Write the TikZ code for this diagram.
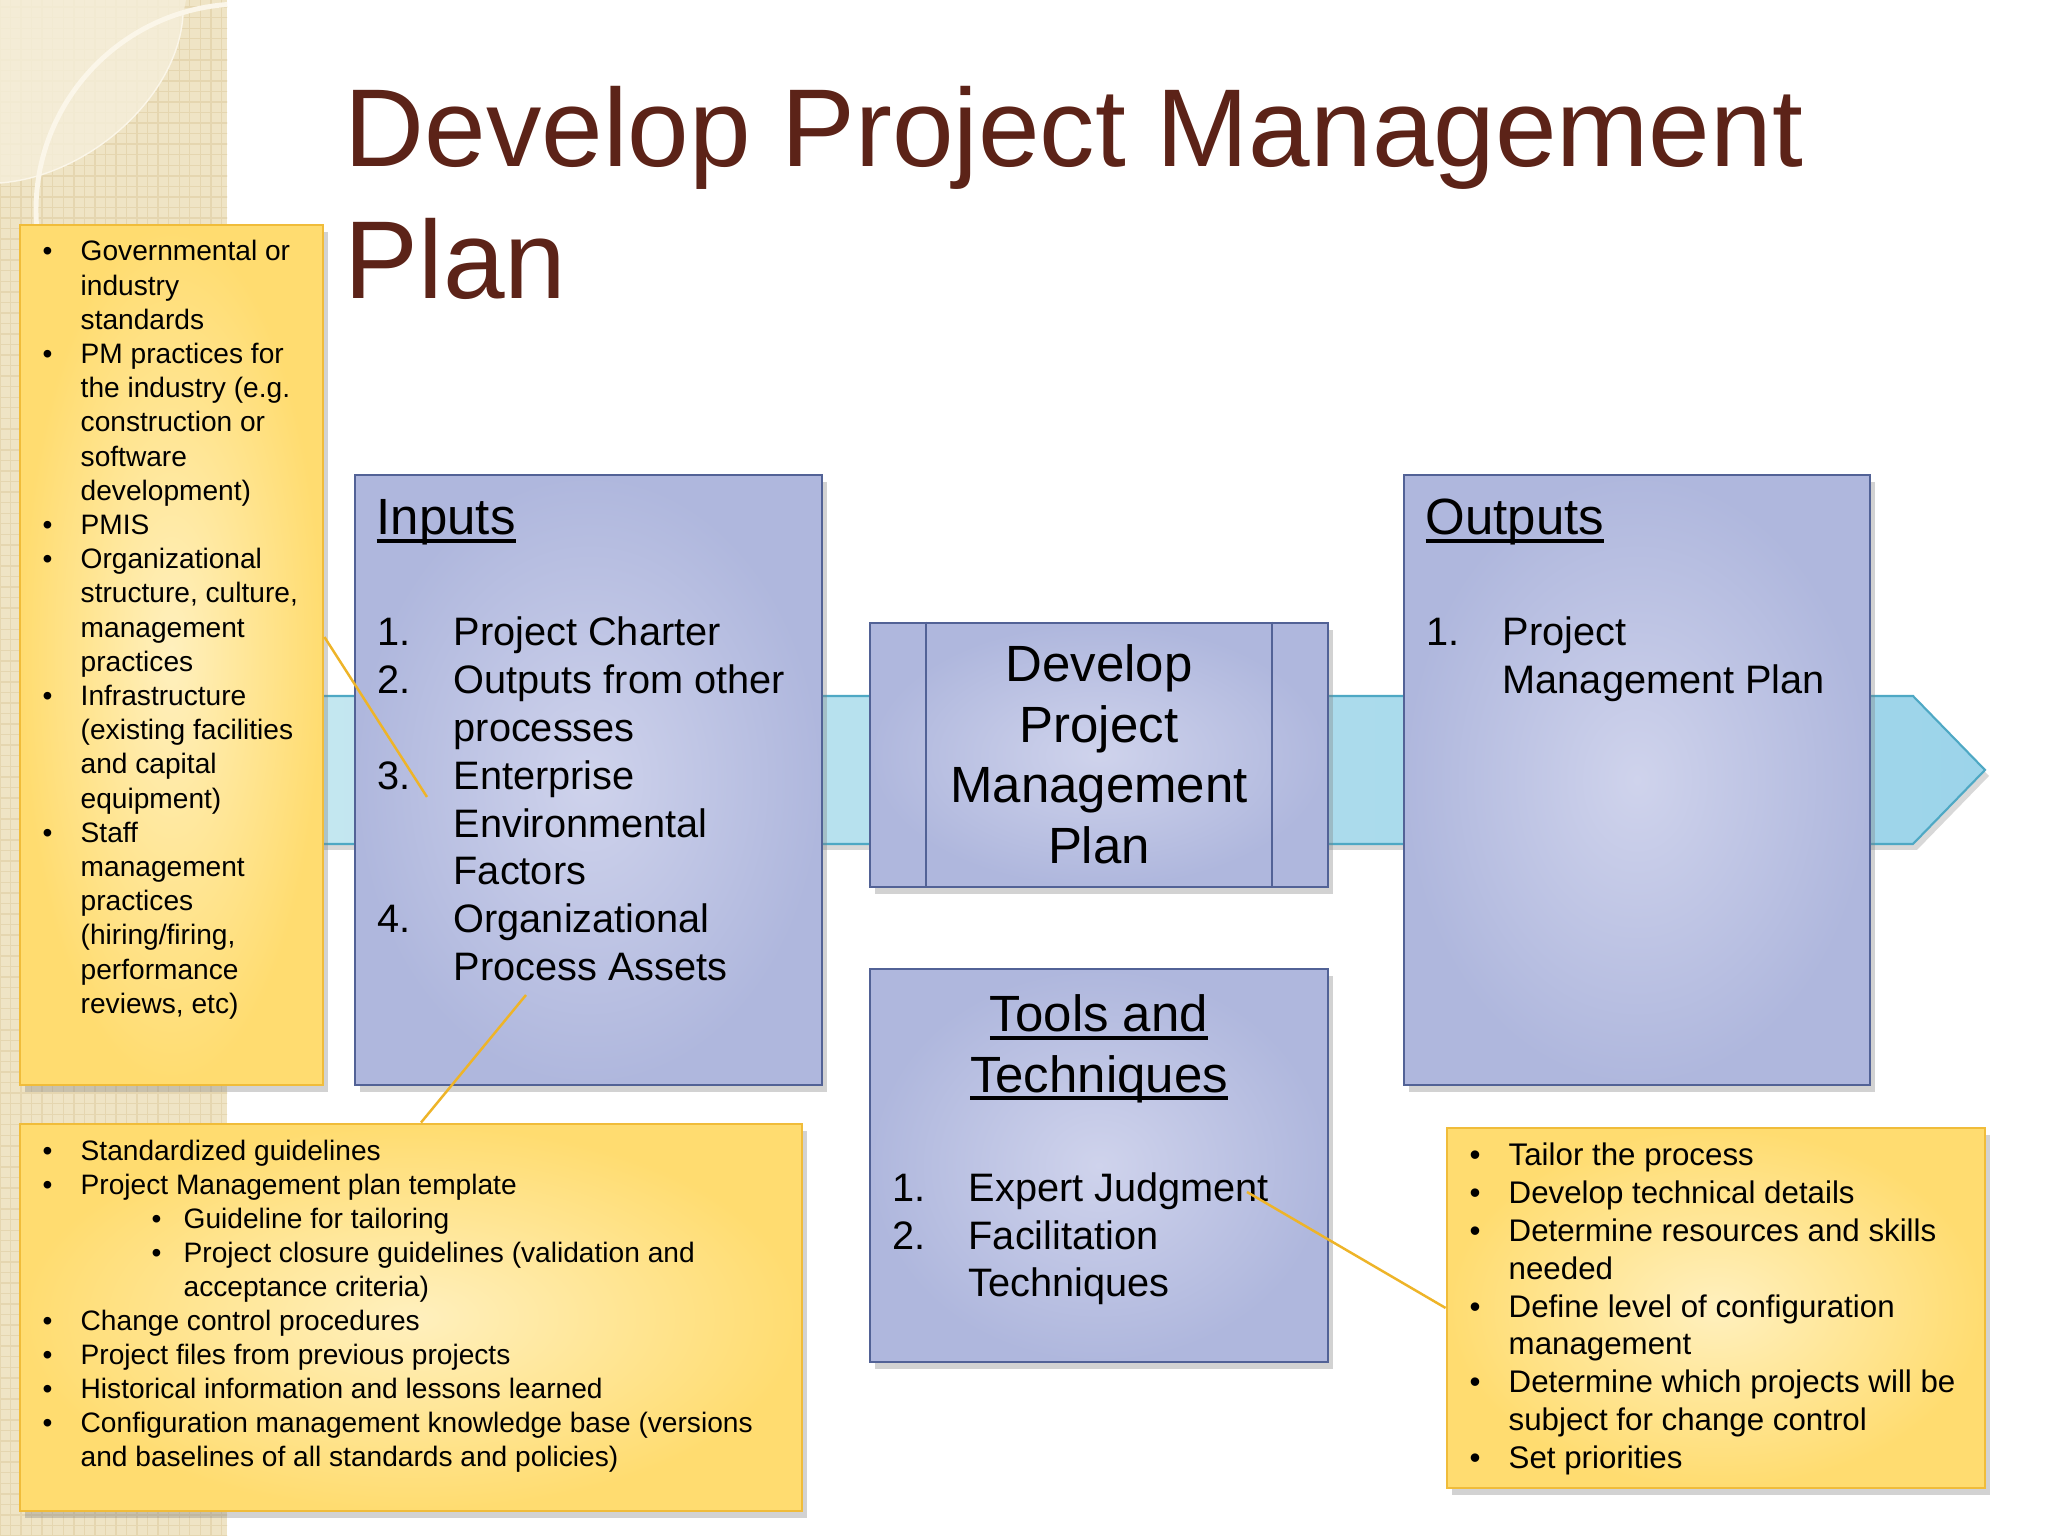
\documentclass[tikz,border=0pt]{standalone}
\usepackage{fontspec}
\setmainfont{Liberation Sans}
\usepackage{tikz}
\usetikzlibrary{positioning, shadows, patterns}
\definecolor{pmtitle}{RGB}{92,35,24}
\definecolor{pmbeige}{RGB}{239,228,197}
\definecolor{pmgrid}{RGB}{229,214,176}
\definecolor{pmbeigelight}{RGB}{246,239,219}
\definecolor{pmarc}{RGB}{251,246,233}
\definecolor{pmblueline}{RGB}{82,98,150}
\definecolor{pmbluein}{RGB}{207,211,236}
\definecolor{pmblueout}{RGB}{175,183,221}
\definecolor{pmyellowin}{RGB}{255,240,190}
\definecolor{pmyellowout}{RGB}{255,220,112}
\definecolor{pmyellowline}{RGB}{240,188,58}
\definecolor{pmbandleft}{RGB}{196,231,240}
\definecolor{pmbandright}{RGB}{156,212,234}
\definecolor{pmbandline}{RGB}{78,168,196}
\definecolor{pmcallline}{RGB}{238,180,40}

% underline close to the baseline
\newcommand{\pmunder}[1]{\setbox0\hbox{#1}\rlap{\rule[-0.16em]{\wd0}{0.075em}}\box0}

\tikzset{
  pmbox/.style={draw=pmblueline, line width=0.7pt, inner color=pmbluein, outer color=pmblueout,
    drop shadow={shadow xshift=0.05cm, shadow yshift=-0.07cm, opacity=0.35}, inner sep=0},
  pmcall/.style={draw=pmyellowline, line width=0.8pt, inner color=pmyellowin, outer color=pmyellowout,
    drop shadow={shadow xshift=0.05cm, shadow yshift=-0.07cm, opacity=0.35}, inner sep=0},
  txt/.style={inner sep=0, anchor=base west},
  callline/.style={draw=pmcallline, line width=0.7pt}
}

\begin{document}
\begin{tikzpicture}
\useasboundingbox (0,0) rectangle (20.48,15.36);
\fill[white] (0,0) rectangle (20.48,15.36);

% Side stripe
\fill[pmbeige] (0,0) rectangle (2.27,15.36);
\fill[pattern=grid, pattern color=pmgrid] (0,0) rectangle (2.27,15.36);
\begin{scope}
\clip (0,0) rectangle (2.27,15.36);
\fill[pmbeigelight, opacity=0.8] (0,15.36) -- (1.86,15.36) -- (1.83,15.21)
  .. controls (1.78,14.4) and (0.9,13.6) .. (0,13.53) -- cycle;
\draw[pmarc, line width=0.4pt] (1.83,15.21) .. controls (1.78,14.4) and (0.9,13.6) .. (0,13.53);
\draw[pmarc, line width=1.4pt] (2.42,13.26) circle (2.06);
\end{scope}

% Title
\node[txt, text=pmtitle] (title) at (3.44,13.69) {\fontsize{31.5}{37.3}\selectfont
\begin{tabular}[t]{@{}l@{}}
Develop Project Management\\
Plan
\end{tabular}};

% Flow band
\draw[pmbandline, line width=0.6pt, left color=pmbandleft, right color=pmbandright,
  drop shadow={shadow xshift=0.04cm, shadow yshift=-0.06cm, opacity=0.3}]
  (3.0,8.40) -- (19.13,8.40) -- (19.85,7.66) -- (19.13,6.92) -- (3.0,6.92) -- cycle;

% Boxes
\node[pmbox, minimum width=4.67cm, minimum height=6.10cm] (inputs) at (5.885,7.56) {};
\node[pmbox, minimum width=4.66cm, minimum height=6.10cm] (outputs) at (16.37,7.56) {};
\node[pmbox, minimum width=4.58cm, minimum height=2.64cm] (process) at (10.99,7.81) {};
\draw[pmblueline, line width=0.7pt] ([xshift=0.57cm]process.north west) -- ([xshift=0.57cm]process.south west);
\draw[pmblueline, line width=0.7pt] ([xshift=-0.57cm]process.north east) -- ([xshift=-0.57cm]process.south east);
\node[pmbox, minimum width=4.58cm, minimum height=3.93cm] (tools) at (10.99,3.705) {};

% Callouts
\node[pmcall, minimum width=3.03cm, minimum height=8.60cm] (envcall) at (1.715,8.81) {};
\node[pmcall, minimum width=7.82cm, minimum height=3.87cm] (opacall) at (4.11,2.185) {};
\node[pmcall, minimum width=5.38cm, minimum height=3.60cm] (techcall) at (17.16,2.28) {};

% Inputs
\node[txt] (inhead) at (3.76,10.01) {\fontsize{14.5}{17}\selectfont\pmunder{Inputs}};
\node[txt] (inlist) at (3.77,8.90) {\fontsize{11.3}{13.6}\selectfont
\begin{tabular}[t]{@{}p{0.76cm}@{}l@{}}
1. & Project Charter\\
2. & Outputs from other\\
   & processes\\
3. & Enterprise\\
   & Environmental\\
   & Factors\\
4. & Organizational\\
   & Process Assets
\end{tabular}};

% Process
\node[inner sep=0, anchor=base] (proctext) at (10.99,8.54) {\fontsize{14.5}{17.2}\selectfont
\begin{tabular}[t]{@{}c@{}}
Develop\\
Project\\
Management\\
Plan
\end{tabular}};

% Tools and techniques
\node[inner sep=0, anchor=base] (toolhead) at (10.99,5.04) {\fontsize{14.5}{17.1}\selectfont
\begin{tabular}[t]{@{}c@{}}
\pmunder{Tools and}\\
\pmunder{Techniques}
\end{tabular}};
\node[txt] (toollist) at (8.92,3.34) {\fontsize{11.3}{13.5}\selectfont
\begin{tabular}[t]{@{}p{0.76cm}@{}l@{}}
1. & Expert Judgment\\
2. & Facilitation\\
   & Techniques
\end{tabular}};

% Outputs
\node[txt] (outhead) at (14.25,10.01) {\fontsize{14.5}{17}\selectfont\pmunder{Outputs}};
\node[txt] (outlist) at (14.26,8.90) {\fontsize{11.3}{13.6}\selectfont
\begin{tabular}[t]{@{}p{0.76cm}@{}l@{}}
1. & Project\\
   & Management Plan
\end{tabular}};

% Enterprise environmental factors
\node[txt] (envlist) at (0.42,12.75) {\fontsize{8}{9.73}\selectfont
\begin{tabular}[t]{@{}p{0.38cm}@{}l@{}}
\textbullet & Governmental or\\
 & industry\\
 & standards\\
\textbullet & PM practices for\\
 & the industry (e.g.\\
 & construction or\\
 & software\\
 & development)\\
\textbullet & PMIS\\
\textbullet & Organizational\\
 & structure, culture,\\
 & management\\
 & practices\\
\textbullet & Infrastructure\\
 & (existing facilities\\
 & and capital\\
 & equipment)\\
\textbullet & Staff\\
 & management\\
 & practices\\
 & (hiring/firing,\\
 & performance\\
 & reviews, etc)
\end{tabular}};

% Organizational process assets
\node[txt] (opalist) at (0.42,3.75) {\fontsize{8}{9.66}\selectfont
\begin{tabular}[t]{@{}p{0.38cm}@{}l@{}}
\textbullet & Standardized guidelines\\
\textbullet & Project Management plan template\\
 & \hspace{0.71cm}\makebox[0.32cm][l]{\textbullet}Guideline for tailoring\\
 & \hspace{0.71cm}\makebox[0.32cm][l]{\textbullet}Project closure guidelines (validation and\\
 & \hspace{1.03cm}acceptance criteria)\\
\textbullet & Change control procedures\\
\textbullet & Project files from previous projects\\
\textbullet & Historical information and lessons learned\\
\textbullet & Configuration management knowledge base (versions\\
 & and baselines of all standards and policies)
\end{tabular}};

% Expert judgment
\node[txt] (techlist) at (14.69,3.70) {\fontsize{8.9}{10.75}\selectfont
\begin{tabular}[t]{@{}p{0.39cm}@{}l@{}}
\textbullet & Tailor the process\\
\textbullet & Develop technical details\\
\textbullet & Determine resources and skills\\
 & needed\\
\textbullet & Define level of configuration\\
 & management\\
\textbullet & Determine which projects will be\\
 & subject for change control\\
\textbullet & Set priorities
\end{tabular}};

% Callout lines
\coordinate (envtip) at (4.27,7.39);
\coordinate (assettip) at (5.26,5.41);
\coordinate (experttip) at (12.47,3.44);
\draw[callline] ([yshift=0.18cm]envcall.east) -- (envtip);
\draw[callline] (assettip) -- ([xshift=0.1cm]opacall.north);
\draw[callline] (experttip) -- (techcall.west);
\end{tikzpicture}
\end{document}
